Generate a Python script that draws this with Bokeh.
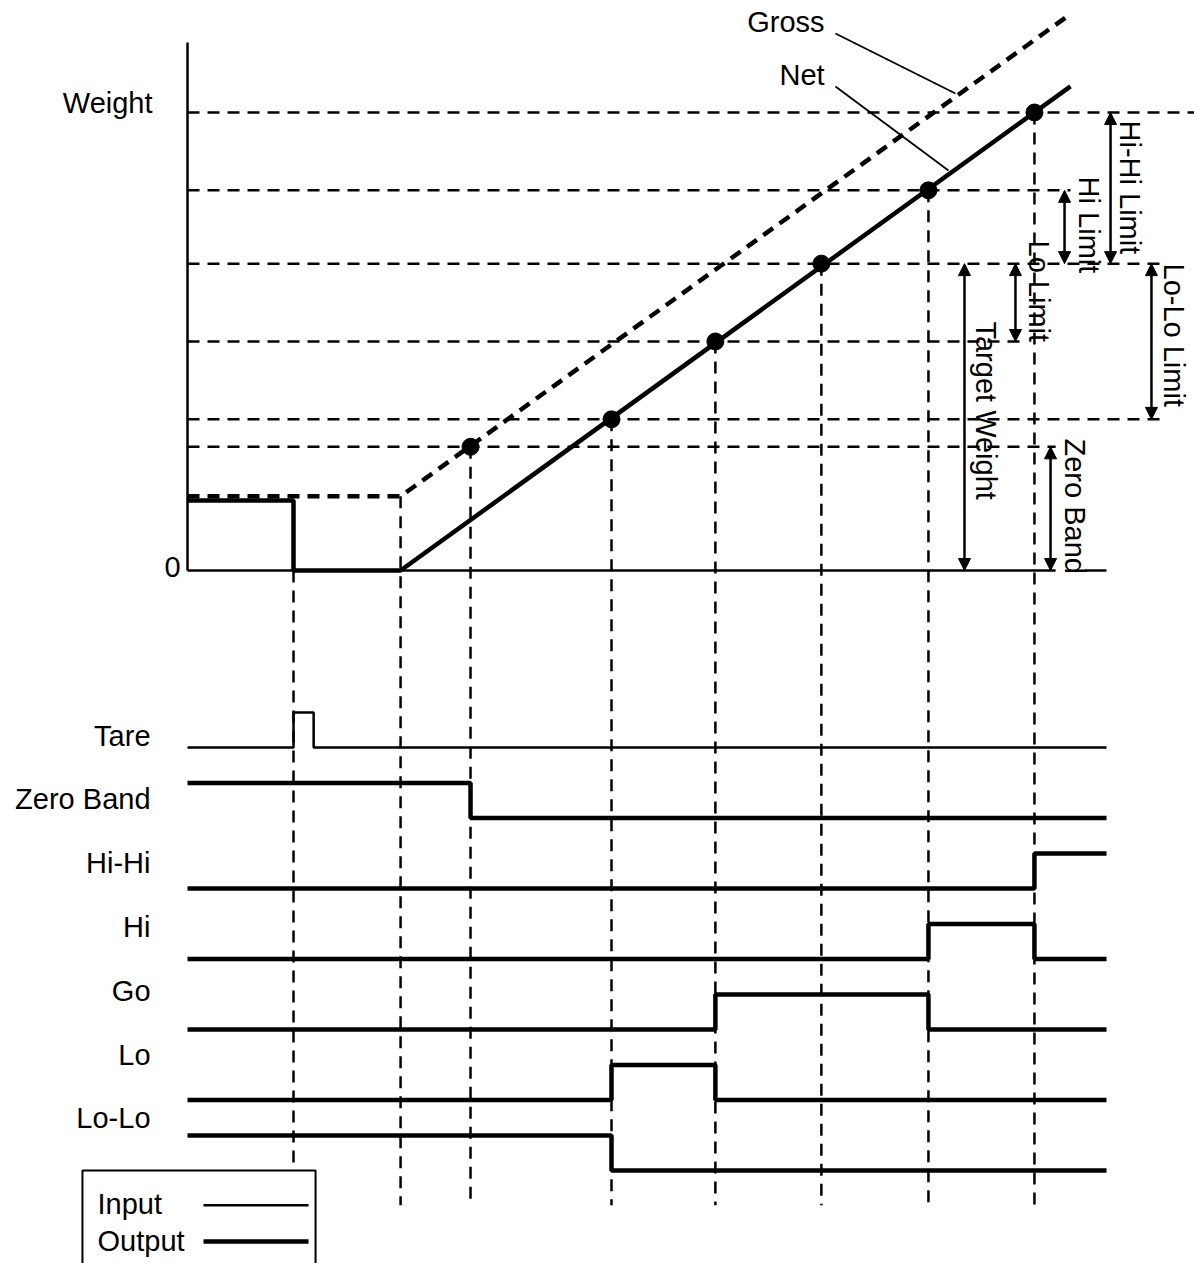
import math
from bokeh.plotting import figure
from bokeh.models import Range1d, Arrow, NormalHead
from bokeh.core.properties import value
from bokeh.embed import file_html
from bokeh.resources import INLINE

# ---------------- data (time units / weight units) ----------------
# weight levels
ZERO_BAND = 27.0
LOLO_LVL = 33.0
LO_LVL = 50.0
TARGET = 67.0
HI_LVL = 83.0
HIHI_LVL = 100.0
TARE_GROSS = 16.2
TARE_NET = 15.3

# event times
event_t = [10.0, 20.1, 26.7, 40.0, 49.8, 59.8, 69.9, 79.9]
event_top = [0.0, TARE_GROSS, ZERO_BAND, LOLO_LVL, LO_LVL, TARGET, HI_LVL, HIHI_LVL]

# gross and net traces
gross_t = [0.0, 20.1, 83.0]
gross_w = [TARE_GROSS, TARE_GROSS, 121.0]
net_t = [0.0, 10.0, 10.0, 20.1, 83.3]
net_w = [TARE_NET, TARE_NET, 0.0, 0.0, 105.7]

# marked points
dot_t = [26.7, 40.0, 49.8, 59.8, 69.9, 79.9]
dot_w = [ZERO_BAND, LOLO_LVL, LO_LVL, TARGET, HI_LVL, HIHI_LVL]

# horizontal reference levels and where their dashes stop (time units)
level_w = [HIHI_LVL, HI_LVL, TARGET, LO_LVL, LOLO_LVL, ZERO_BAND]
level_end = [95.0, 83.3, 91.8, 79.2, 91.8, 81.9]

# signals (transition times, states between them)
sig_names = ["Tare", "Zero Band", "Hi-Hi", "Hi", "Go", "Lo", "Lo-Lo"]
sig_times = [
    [0.0, 10.0, 11.9, 86.7],
    [0.0, 26.7, 86.7],
    [0.0, 79.9, 86.7],
    [0.0, 69.9, 79.9, 86.7],
    [0.0, 49.8, 69.9, 86.7],
    [0.0, 40.0, 49.8, 86.7],
    [0.0, 40.0, 86.7],
]
sig_states = [
    [0, 1, 0],
    [1, 0],
    [0, 1],
    [0, 1, 0],
    [0, 1, 0],
    [0, 1, 0],
    [1, 0],
]
sig_is_input = [True, False, False, False, False, False, False]

# limit annotations: (label, level from, level to)
limits = [
    ("Hi-Hi Limit", HIHI_LVL, TARGET),
    ("Hi Limit", HI_LVL, TARGET),
    ("Lo Limit", TARGET, LO_LVL),
    ("Lo-Lo Limit", TARGET, LOLO_LVL),
    ("Target Weight", TARGET, 0.0),
    ("Zero Band", ZERO_BAND, 0.0),
]

# ---------------- layout / style ----------------
FONT = value("Liberation Sans")
FS = "29px"
THICK = 4.5
THIN = 2.5
DASH = "12 8"
TY = 2.18   # text anchor shift (weight units) from baseline to middle
TX = 0.943  # same for rotated text (time units)

p = figure(width=1194, height=1263,
           x_range=Range1d(-17.642, 95.0), y_range=Range1d(-151.31, 124.454),
           output_backend="svg", toolbar_location=None, min_border=0,
           x_axis_location=None, y_axis_location=None)
p.outline_line_color = None
p.grid.grid_line_color = None
p.background_fill_color = "white"
p.border_fill_color = "white"

# signal row geometry (weight-axis units)
SIG_TOP = -31.0
ROW_STEP = 15.39
AMP = 7.64
BOTTOM_MAIN = -138.6
BOTTOM_TARE = -131.0

# horizontal dashed levels
for w, e in zip(level_w, level_end):
    p.line([0, e], [w, w], line_color="black", line_width=THIN, line_dash=DASH)

# vertical dashed event lines
for i, (t, top) in enumerate(zip(event_t, event_top)):
    bot = BOTTOM_TARE if i == 0 else BOTTOM_MAIN
    p.line([t, t], [top, bot], line_color="black", line_width=THIN, line_dash=DASH)

# axes
p.line([0, 0], [0, 115.3], line_color="black", line_width=2.5)
p.line([0, 81.9], [0, 0], line_color="black", line_width=THIN)
p.line([84.7, 86.7], [0, 0], line_color="black", line_width=THIN)

# gross and net
p.line(gross_t, gross_w, line_color="black", line_width=THICK, line_dash=DASH)
p.line(net_t, net_w, line_color="black", line_width=THICK)
p.scatter(dot_t, dot_w, size=17, color="black")

# pointer labels
p.text(x=[60.1, 60.1], y=[117.5 + TY, 105.9 + TY], text=["Gross", "Net"], text_align="right",
       text_baseline="middle", text_font=FONT, text_font_size=FS, text_color="black")
p.line([61.13, 72.45], [117.25, 104.15], line_color="black", line_width=1.8)
p.line([61.13, 71.79], [105.68, 87.34], line_color="black", line_width=1.8)

p.text(x=[-3.30, -0.66], y=[100.0 + TY, -1.31 + TY], text=["Weight", "0"], text_align="right",
       text_baseline="middle", text_font=FONT, text_font_size=FS, text_color="black")

# limit arrows + rotated labels
arrow_x = [87.08, 82.74, 78.11, 90.94, 73.30, 81.42]
label_x = [88.0, 84.06, 79.34, 92.17, 74.34, 82.83]
label_y = [98.25, 86.0, 72.05, 67.03, 54.37, 28.82]
for (name, a, b), ax in zip(limits, arrow_x):
    p.add_layout(Arrow(start=NormalHead(size=12, fill_color="black", line_color="black"),
                       end=NormalHead(size=12, fill_color="black", line_color="black"),
                       x_start=ax, y_start=a, x_end=ax, y_end=b,
                       line_color="black", line_width=THIN))
p.text(x=[lx + TX for lx in label_x], y=label_y, text=[l[0] for l in limits],
       angle=-math.pi / 2, text_align="left", text_baseline="middle", text_font=FONT,
       text_font_size=FS, text_color="black")

# signals
for i, (ts, ss, inp) in enumerate(zip(sig_times, sig_states, sig_is_input)):
    hi = SIG_TOP - ROW_STEP * i
    lo = hi - AMP
    xs, ys = [], []
    for k, s in enumerate(ss):
        y = hi if s else lo
        xs += [ts[k], ts[k + 1]]
        ys += [y, y]
    p.line(xs, ys, line_color="black", line_width=THIN if inp else THICK)

lab_y = [-38.21 + TY - 13.93 * i for i in range(len(sig_names))]
p.text(x=[-3.49] * len(sig_names), y=lab_y, text=sig_names, text_align="right",
       text_baseline="middle", text_font=FONT, text_font_size=FS, text_color="black")

# legend box
p.line([-9.91, -9.91, 12.08, 12.08], [-155.0, -131.0, -131.0, -155.0],
       line_color="black", line_width=2)
p.text(x=[-8.49, -8.49], y=[-140.6 + TY, -148.5 + TY], text=["Input", "Output"],
       text_align="left", text_baseline="middle", text_font=FONT, text_font_size=FS,
       text_color="black")
p.line([1.51, 11.42], [-138.6, -138.6], line_color="black", line_width=THIN)
p.line([1.51, 11.42], [-146.5, -146.5], line_color="black", line_width=THICK)

open("out.html", "w").write(file_html(p, INLINE))
